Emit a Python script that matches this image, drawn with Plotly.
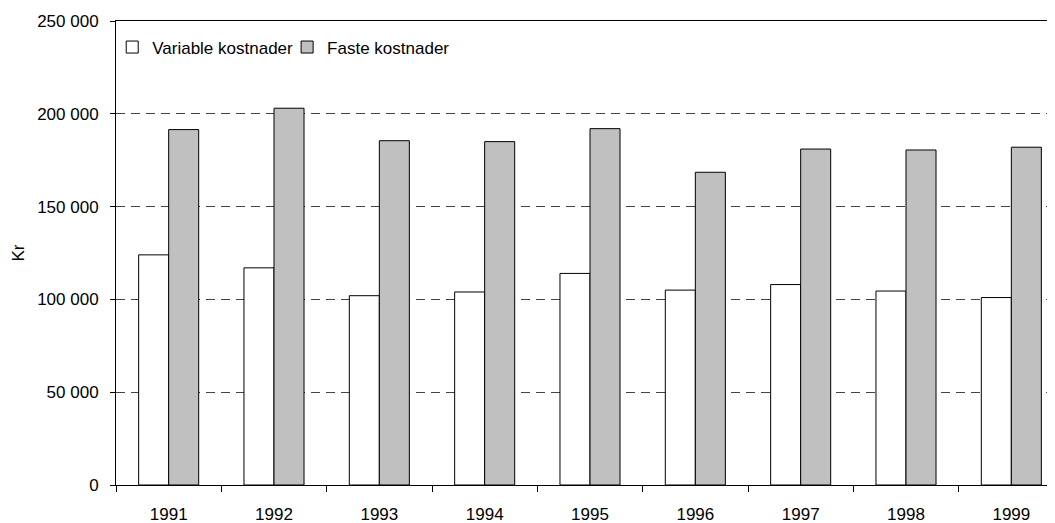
import plotly.graph_objects as go

years = ["1991", "1992", "1993", "1994", "1995", "1996", "1997", "1998", "1999"]
variable_kostnader = [124000, 117000, 102000, 104000, 114000, 105000, 108000, 104500, 101000]
faste_kostnader = [191500, 203000, 185500, 185000, 192000, 168500, 181000, 180500, 182000]
y_ticks = [0, 50000, 100000, 150000, 200000, 250000]

FONT = "Liberation Sans, Arial, sans-serif"
FS = 17

fig = go.Figure()
fig.add_trace(go.Bar(
    x=years, y=variable_kostnader, name="Variable kostnader", legend="legend",
    marker=dict(color="#FFFFFF", line=dict(color="#000000", width=1)),
))
fig.add_trace(go.Bar(
    x=years, y=faste_kostnader, name="Faste kostnader", legend="legend2",
    marker=dict(color="#C0C0C0", line=dict(color="#000000", width=1)),
))

leg_common = dict(
    orientation="h", yanchor="top", xanchor="left", y=0.9817,
    bgcolor="rgba(0,0,0,0)", font=dict(size=FS), itemwidth=30,
)

fig.update_layout(
    width=1056, height=516,
    margin=dict(l=108, r=0, t=13, b=39, autoexpand=False),
    paper_bgcolor="white", plot_bgcolor="white",
    separators=". ",
    showlegend=True,
    barmode="group", bargap=0.43, bargroupgap=0,
    font=dict(family=FONT, size=FS, color="#000000"),
    legend=dict(x=-0.004, **leg_common),
    legend2=dict(x=0.1805, **leg_common),
    xaxis=dict(
        type="category", range=[-0.5, 8.5],
        showline=True, linecolor="#000000", linewidth=1, mirror=True,
        ticks="outside", ticklen=6, tickcolor="#000000", tickson="boundaries",
        showgrid=False, tickfont=dict(size=FS), ticklabelstandoff=14,
    ),
    yaxis=dict(
        range=[0, 250000], tickvals=y_ticks, tickformat=",d",
        showline=True, linecolor="#000000", linewidth=1,
        ticks="outside", ticklen=5, tickcolor="#000000",
        showgrid=True, gridcolor="#444444", gridwidth=1, griddash="9px,6px",
        zeroline=False, tickfont=dict(size=FS), ticklabelstandoff=8,
        title=dict(text="Kr", font=dict(size=FS), standoff=8),
    ),
)

fig.write_html("out.html")
